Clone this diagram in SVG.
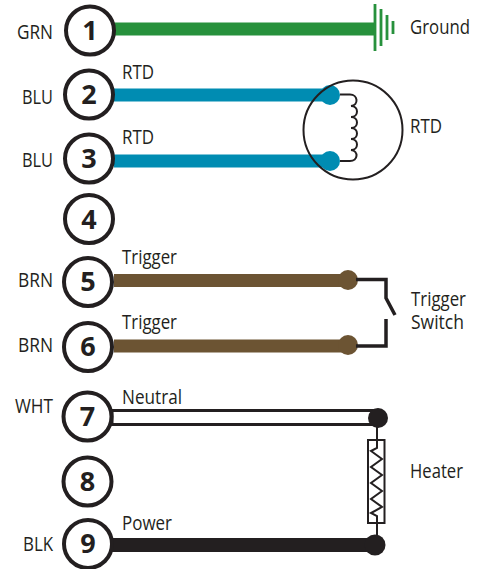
<svg xmlns="http://www.w3.org/2000/svg" width="489" height="569" viewBox="0 0 489 569">
<style>
.c{fill:#fff;stroke:#231f20;stroke-width:4}
.n{font:700 27px "Open Sans",sans-serif;fill:#231f20;text-anchor:middle}
.t{font:20px "Open Sans",sans-serif;fill:#231f20}
.e{text-anchor:end}
.l{fill:none;stroke:#231f20;stroke-linejoin:miter}
</style>
<rect width="489" height="569" fill="#fff"/>
<g id="connectors">
<g id="wire1" fill="none" stroke="#27913c">
<path d="M114 29H375" stroke-width="13"/>
<path d="M375 4V51M381 9V46M387 15V40M393 21V34" stroke-width="2.8"/>
</g>
<g id="wire23">
<path d="M114 95H330M114 161H330" stroke="#008cb2" stroke-width="13" fill="none"/>
<circle cx="330" cy="95" r="10" fill="#008cb2"/>
<circle cx="330" cy="161" r="10" fill="#008cb2"/>
<circle cx="353" cy="130" r="49.500" class="l" stroke-width="2"/>
<path class="l" stroke-width="2" d="M340 94.500H350C358 94.500 359 105 351 106C359 106 359 117 351 117C359 117 359 128 351 128C359 128 359 139 351 139C359 139 359 150 351 150C359 151 358 161 350 161H340"/>
</g>
<g id="wire56">
<path d="M114 280.500H348M114 346H348" stroke="#6c5433" stroke-width="13" fill="none"/>
<circle cx="348" cy="280" r="10" fill="#6c5433"/>
<circle cx="348" cy="345" r="10" fill="#6c5433"/>
<path class="l" stroke-width="3.500" d="M356 279.500H386V298L395 315M386 319V346H356"/>
</g>
<g id="wire7">
<path d="M112 410.500H378M112 424.500H378M112 409V426" class="l" stroke-width="3"/>
<circle cx="378" cy="418" r="10" fill="#231f20"/>
<path class="l" stroke-width="2" d="M377 425V448L371 451L382 459L371 467L382 475L371 483L382 491L371 499L382 507L371 513L377 516V540"/>
<rect x="368" y="440" width="16.500" height="83" class="l" stroke-width="2"/>
</g>
<g id="wire9">
<path d="M112 545H375" stroke="#231f20" stroke-width="14" fill="none"/>
<circle cx="375" cy="545" r="10.500" fill="#231f20"/>
</g>
</g>
<g id="node1"><circle class="c" cx="90" cy="30.500" r="24"/><text class="n" x="90" y="39.500">1</text></g>
<g id="node2"><circle class="c" cx="89" cy="94.500" r="24"/><text class="n" x="89" y="104">2</text></g>
<g id="node3"><circle class="c" cx="89" cy="158.500" r="24"/><text class="n" x="89" y="167.500">3</text></g>
<g id="node4"><circle class="c" cx="89" cy="219" r="24"/><text class="n" x="89" y="228.500">4</text></g>
<g id="node5"><circle class="c" cx="88" cy="282" r="24"/><text class="n" x="88" y="291">5</text></g>
<g id="node6"><circle class="c" cx="88" cy="347" r="24"/><text class="n" x="88" y="356">6</text></g>
<g id="node7"><circle class="c" cx="87.500" cy="416.500" r="24"/><text class="n" x="87.500" y="425.500">7</text></g>
<g id="node8"><circle class="c" cx="87.500" cy="481.500" r="24"/><text class="n" x="87.500" y="490.500">8</text></g>
<g id="node9"><circle class="c" cx="88" cy="544" r="24"/><text class="n" x="88" y="553">9</text></g>
<g id="labels">
<text class="t e" x="53" y="38.500" textLength="36" lengthAdjust="spacingAndGlyphs">GRN</text>
<text class="t e" x="53" y="104" textLength="31" lengthAdjust="spacingAndGlyphs">BLU</text>
<text class="t e" x="53" y="166.500" textLength="31" lengthAdjust="spacingAndGlyphs">BLU</text>
<text class="t e" x="53" y="287" textLength="35" lengthAdjust="spacingAndGlyphs">BRN</text>
<text class="t e" x="53" y="352" textLength="35" lengthAdjust="spacingAndGlyphs">BRN</text>
<text class="t e" x="53" y="413" textLength="38" lengthAdjust="spacingAndGlyphs">WHT</text>
<text class="t e" x="53" y="551" textLength="30" lengthAdjust="spacingAndGlyphs">BLK</text>
<text class="t" x="122" y="79" textLength="32" lengthAdjust="spacingAndGlyphs">RTD</text>
<text class="t" x="122" y="144" textLength="32" lengthAdjust="spacingAndGlyphs">RTD</text>
<text class="t" x="122" y="264" textLength="55" lengthAdjust="spacingAndGlyphs">Trigger</text>
<text class="t" x="122" y="329" textLength="55" lengthAdjust="spacingAndGlyphs">Trigger</text>
<text class="t" x="122" y="404" textLength="60" lengthAdjust="spacingAndGlyphs">Neutral</text>
<text class="t" x="122" y="530" textLength="50" lengthAdjust="spacingAndGlyphs">Power</text>
<text class="t" x="410" y="34" textLength="60" lengthAdjust="spacingAndGlyphs">Ground</text>
<text class="t" x="410" y="133" textLength="32" lengthAdjust="spacingAndGlyphs">RTD</text>
<text class="t" x="411" y="305.500" textLength="55" lengthAdjust="spacingAndGlyphs">Trigger</text>
<text class="t" x="411" y="329" textLength="53" lengthAdjust="spacingAndGlyphs">Switch</text>
<text class="t" x="410" y="477.500" textLength="53" lengthAdjust="spacingAndGlyphs">Heater</text>
</g>
</svg>
